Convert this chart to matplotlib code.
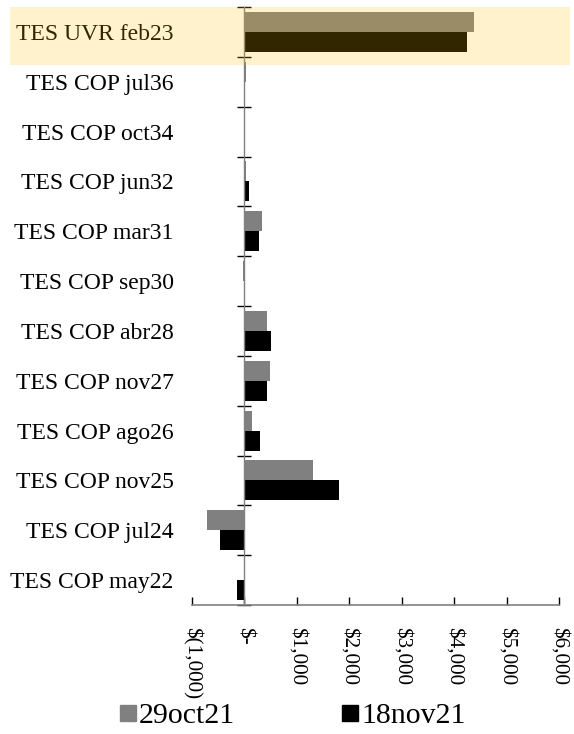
import matplotlib
matplotlib.use("Agg")
import matplotlib.pyplot as plt
import numpy as np
from matplotlib.patches import Rectangle
from matplotlib.lines import Line2D

plt.rcParams['font.family'] = ['Liberation Serif', 'DejaVu Serif']

categories = ["TES UVR feb23", "TES COP jul36", "TES COP oct34", "TES COP jun32",
              "TES COP mar31", "TES COP sep30", "TES COP abr28", "TES COP nov27",
              "TES COP ago26", "TES COP nov25", "TES COP jul24", "TES COP may22"]
s_oct = [4380, 30, 10, 30, 330, -20, 430, 480, 150, 1300, -720, 0]
s_nov = [4250, 20, 5, 80, 285, 0, 500, 440, 305, 1800, -470, -145]
series_names = ["29oct21", "18nov21"]
xticks = [-1000, 0, 1000, 2000, 3000, 4000, 5000, 6000]
xticklabels = ["$(1,000)", "$-", "$1,000", "$2,000", "$3,000", "$4,000", "$5,000", "$6,000"]

W, H = 574, 734
fig = plt.figure(figsize=(W/100, H/100), dpi=100)
ax = fig.add_axes([192/W, 1-605/H, (559-192)/W, (605-7)/H])

y = np.arange(len(categories))
h = 0.4
ax.barh(y - h/2, s_oct, height=h, color='#808080', label=series_names[0])
ax.barh(y + h/2, s_nov, height=h, color='#000000', label=series_names[1])

ax.set_xlim(-1000, 6000)
ax.set_ylim(len(categories) - 0.5, -0.5)

for s in ['top', 'right']:
    ax.spines[s].set_visible(False)
ax.spines['left'].set_position(('data', 0))
ax.spines['left'].set_color('#808080')
ax.spines['bottom'].set_color('#808080')
ax.spines['left'].set_linewidth(1.0)
ax.spines['bottom'].set_linewidth(1.2)

ax.set_yticks(np.arange(len(categories) + 1) - 0.5)
ax.set_yticklabels([])
ax.set_yticks(y, minor=True)
ax.set_yticklabels(categories, minor=True, fontsize=17)
ax.tick_params(axis='y', which='major', direction='inout', length=10, width=1, color='black')
ax.tick_params(axis='y', which='minor', length=0, pad=51)

ax.set_xticks(xticks)
ax.set_xticklabels(xticklabels, rotation=-90, fontsize=15.2)
ax.tick_params(axis='x', direction='in', length=6, width=1, color='black', pad=16)

# highlight band
rect = Rectangle((10/W, 1-65/H), (570-10)/W, (65-7)/H, transform=fig.transFigure,
                 facecolor='#FFC000', alpha=0.2, edgecolor='none', zorder=10)
fig.patches.append(rect)

handles = [Line2D([], [], marker='s', linestyle='none', color='#808080', markersize=11),
           Line2D([], [], marker='s', linestyle='none', color='#000000', markersize=11)]
fig.legend(handles, series_names, loc='center', bbox_to_anchor=(293/W, 1-716/H), ncol=2,
           frameon=False, fontsize=21.5, handlelength=0.5, handletextpad=0.13, columnspacing=3.6,
           borderaxespad=0, borderpad=0)

fig.savefig("out.png", dpi=100)
